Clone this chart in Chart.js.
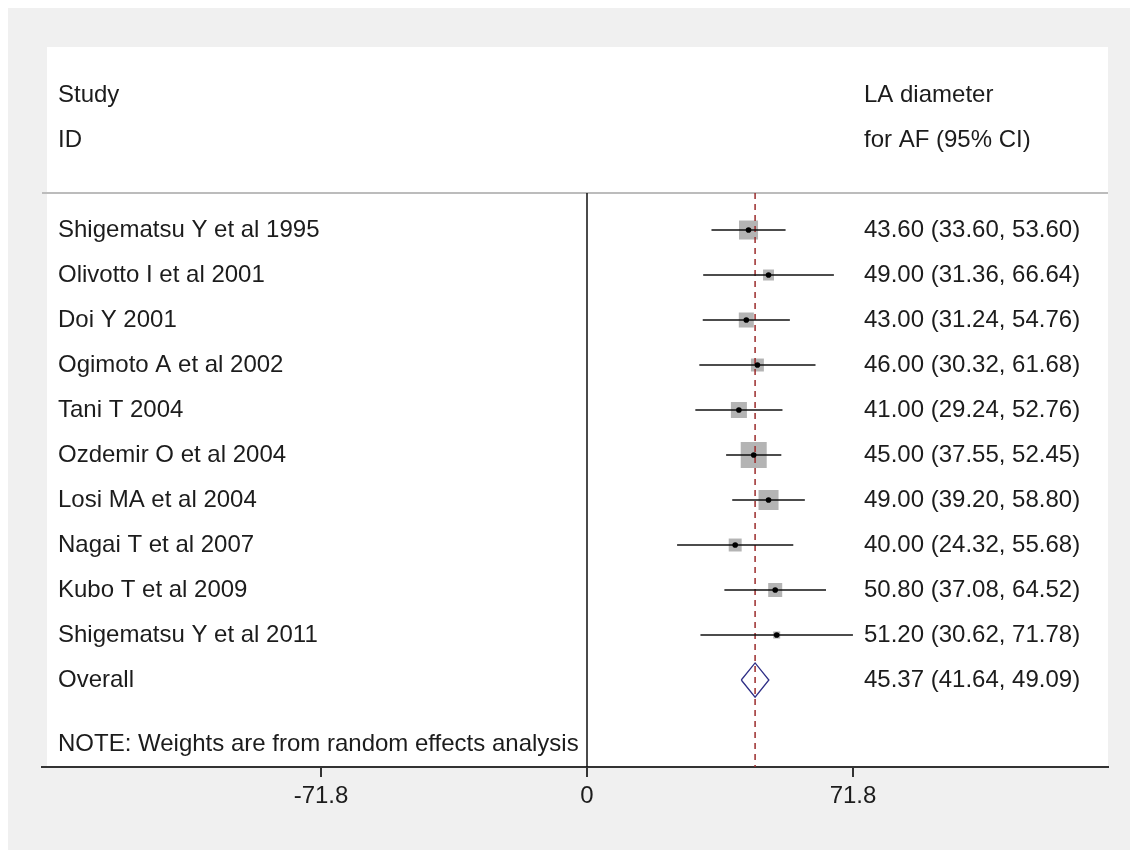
<!DOCTYPE html>
<html><head><meta charset="utf-8">
<script src="https://cdn.jsdelivr.net/npm/chart.js@4/dist/chart.umd.min.js"></script>
<style>html,body{margin:0;padding:0;background:#fff;overflow:hidden}#wrap{position:absolute;left:0;top:0;width:1130px;height:850px}</style>
</head><body><div id="wrap"><canvas id="c" width="1130" height="850"></canvas></div>
<script>
// ---- data ----
const studies = ["Shigematsu Y et al 1995","Olivotto I et al 2001","Doi Y 2001","Ogimoto A et al 2002","Tani T 2004","Ozdemir O et al 2004","Losi MA et al 2004","Nagai T et al 2007","Kubo T et al 2009","Shigematsu Y et al 2011"];
const estimates = [43.60, 49.00, 43.00, 46.00, 41.00, 45.00, 49.00, 40.00, 50.80, 51.20];
const lowerCI  = [33.60, 31.36, 31.24, 30.32, 29.24, 37.55, 39.20, 24.32, 37.08, 30.62];
const upperCI  = [53.60, 66.64, 54.76, 61.68, 52.76, 52.45, 58.80, 55.68, 64.52, 71.78];
const weights  = [13.8, 4.6, 8.6, 6.4, 9.8, 25.8, 15.3, 6.4, 7.5, 1.9]; // estimated % (random effects)
const overall  = {est: 45.37, lo: 41.64, hi: 49.09};
const xTicks   = [-71.8, 0, 71.8];
const headerLeft  = ["Study", "ID"];
const headerRight = ["LA diameter", "for AF (95% CI)"];
const noteText = "NOTE: Weights are from random effects analysis";

// ---- layout constants ----
const X_MIN = -147.11, X_MAX = 140.63;
const Y_MIN = -4.067, Y_MAX = 11.933;
const HEADER_LINE_Y = -0.822;
const NOTE_Y = 11.44;
const FAMILY = '"Liberation Sans", Arial, sans-serif';
const FONT = '24px ' + FAMILY;
const TXT = '#1c1c1c';

const n = studies.length;
const datasets = [];

// header separator line
datasets.push({data:[{x:X_MIN,y:HEADER_LINE_Y},{x:X_MAX,y:HEADER_LINE_Y}], showLine:true, pointRadius:0, borderColor:'#bcbcbc', borderWidth:2, order:20});
// zero line
datasets.push({data:[{x:0,y:HEADER_LINE_Y},{x:0,y:Y_MAX}], showLine:true, pointRadius:0, borderColor:'#111', borderWidth:1.5, order:19});
// boxes
datasets.push({data:estimates.map((e,i)=>({x:e,y:i})), pointStyle:'rect',
  pointRadius:weights.map(w=>5.12*Math.sqrt(w)/(2*Math.SQRT1_2)), backgroundColor:'#b4b4b4', borderWidth:0, order:10});
// overall reference line (dashed)
datasets.push({data:[{x:overall.est,y:HEADER_LINE_Y},{x:overall.est,y:Y_MAX}], showLine:true, pointRadius:0, borderColor:'#9b2b2b', borderWidth:1.5, borderDash:[6,5], order:8});
// CI lines
for (let i=0;i<n;i++){
  datasets.push({data:[{x:lowerCI[i],y:i},{x:upperCI[i],y:i}], showLine:true, pointRadius:0, borderColor:'#111', borderWidth:1.5, order:5});
}
// center dots
datasets.push({data:estimates.map((e,i)=>({x:e,y:i})), pointStyle:'circle', pointRadius:2.8, backgroundColor:'#000', borderWidth:0, order:1});
// overall diamond
const oy = n, dh = 0.38;
datasets.push({data:[{x:overall.lo,y:oy},{x:overall.est,y:oy-dh},{x:overall.hi,y:oy},{x:overall.est,y:oy+dh},{x:overall.lo,y:oy}],
  showLine:true, pointRadius:0, borderColor:'#2e2e86', borderWidth:1.3, order:2});

const bgPlugin = {
  id:'bg',
  beforeDraw(chart){
    const ctx=chart.ctx, ca=chart.chartArea;
    ctx.save();
    ctx.fillStyle='#ffffff'; ctx.fillRect(0,0,chart.width,chart.height);
    ctx.fillStyle='#f0f0f0'; ctx.fillRect(8,8,chart.width-8,chart.height-8);
    ctx.fillStyle='#ffffff'; ctx.fillRect(ca.left+5, ca.top, ca.right-ca.left-5, ca.bottom-ca.top);
    ctx.restore();
  }
};
const fmt = v => v.toFixed(2);
const textPlugin = {
  id:'texts',
  afterDraw(chart){
    const ctx=chart.ctx, ca=chart.chartArea, ys=chart.scales.y;
    const lx = ca.left+16, rx = 864;
    ctx.save();
    ctx.font=FONT; ctx.fillStyle=TXT; ctx.textBaseline='middle'; ctx.textAlign='left';
    headerLeft.forEach((t,k)=>ctx.fillText(t, lx, ys.getPixelForValue(-3+k)));
    headerRight.forEach((t,k)=>ctx.fillText(t, rx, ys.getPixelForValue(-3+k)));
    for(let i=0;i<n;i++){
      const y=ys.getPixelForValue(i);
      ctx.fillText(studies[i], lx, y);
      ctx.fillText(fmt(estimates[i])+' ('+fmt(lowerCI[i])+', '+fmt(upperCI[i])+')', rx, y);
    }
    const y=ys.getPixelForValue(n);
    ctx.fillText('Overall', lx, y);
    ctx.fillText(fmt(overall.est)+' ('+fmt(overall.lo)+', '+fmt(overall.hi)+')', rx, y);
    ctx.fillText(noteText, lx, ys.getPixelForValue(NOTE_Y));
    ctx.restore();
  }
};

new Chart(document.getElementById('c'), {
  type:'scatter',
  data:{datasets},
  options:{
    responsive:false, animation:false, events:[], devicePixelRatio:1,
    layout:{padding:{left:42,right:22,top:47,bottom:0}},
    plugins:{legend:{display:false}, tooltip:{enabled:false}},
    scales:{
      x:{type:'linear', min:X_MIN, max:X_MAX,
        afterBuildTicks(s){ s.ticks = xTicks.map(v=>({value:v})); },
        afterFit(s){ s.height = 83; },
        ticks:{font:{family:FAMILY, size:24}, color:TXT, padding:5,
          callback:v=> v===0 ? '0' : v.toFixed(1), maxRotation:0, autoSkip:false},
        grid:{drawOnChartArea:false, drawTicks:true, tickLength:10, color:'#333', lineWidth:2},
        border:{display:true, color:'#333', width:2}
      },
      y:{type:'linear', reverse:true, min:Y_MIN, max:Y_MAX, display:false}
    }
  },
  plugins:[bgPlugin, textPlugin]
});
</script></body></html>
